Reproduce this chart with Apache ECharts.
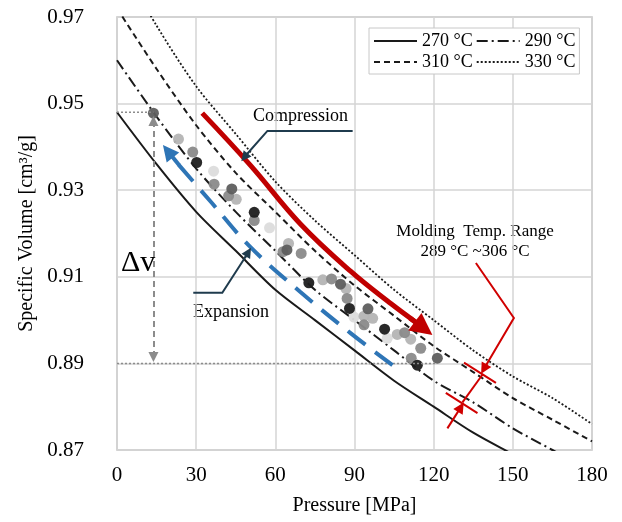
<!DOCTYPE html>
<html>
<head>
<meta charset="utf-8">
<title>Specific Volume vs Pressure</title>
<script src="https://cdn.jsdelivr.net/npm/echarts@6/dist/echarts.min.js"></script>
<style>
  html, body { margin: 0; padding: 0; background: #fff; }
  #main { width: 622px; height: 522px; }
</style>
</head>
<body>
<div id="main"></div>
<script>
// pvT isotherms
var pressure = [0, 15, 30, 45, 60, 75, 90, 105, 120, 135, 150, 165, 180];
var v270 = [0.948, 0.936, 0.925, 0.916, 0.907, 0.900, 0.893, 0.886, 0.880, 0.874, 0.869, 0.864, 0.859];
var v290 = [0.960, 0.947, 0.935, 0.925, 0.916, 0.907, 0.900, 0.893, 0.886, 0.881, 0.875, 0.870, 0.865];
var v310 = [0.972, 0.958, 0.945, 0.934, 0.925, 0.916, 0.908, 0.901, 0.894, 0.888, 0.882, 0.877, 0.872];
var v330 = [0.984, 0.968, 0.954, 0.943, 0.932, 0.923, 0.915, 0.907, 0.900, 0.893, 0.887, 0.882, 0.876];
var curveNames = ['270 °C', '290 °C', '310 °C', '330 °C'];

// measured points, grouped by marker shade
var blackPts = [[30.2, 0.9364], [52, 0.9249], [72.7, 0.9086], [88.1, 0.9027], [101.4, 0.8979], [113.8, 0.8896]];
var darkPts = [[13.8, 0.9478], [43.5, 0.9303], [64.4, 0.9162], [84.7, 0.9083], [95.1, 0.9026], [121.4, 0.8912]];
var midPts = [[28.7, 0.9388], [36.8, 0.9314], [42.3, 0.9287], [52, 0.9230], [62.9, 0.9158], [69.8, 0.9154],
              [81.3, 0.9095], [87.2, 0.9050], [93.6, 0.8989], [109, 0.8971], [115.1, 0.8935], [111.5, 0.8912]];
var lightPts = [[23.3, 0.9418], [45.2, 0.9279], [65, 0.9177], [78, 0.9093], [86.8, 0.9073], [96.9, 0.9004],
                [93.6, 0.9009], [106.2, 0.8967], [111.3, 0.8956]];
var palePts = [[36.6, 0.9344], [57.8, 0.9213], [89.8, 0.9007], [102.4, 0.8958]];

// annotation paths (data coordinates)
var compressionPath = [[32.3, 0.9478], [50.5, 0.9358], [69.5, 0.9222], [88.5, 0.9113], [104, 0.9037], [113.5, 0.8994]];
var compressionTip = [[111, 0.9005], [116.2, 0.8981]];
var expansionPath = [[104.4, 0.8896], [88.5, 0.8970], [69.5, 0.9065], [50.5, 0.9169], [35.3, 0.9275], [22.5, 0.9365]];
var expansionTip = [[23.5, 0.9358], [19.3, 0.9390]];

var serif = '"Liberation Serif", "Times New Roman", serif';

function curve(name, vals, type, width) {
    return {
        name: name,
        type: 'line',
        symbol: 'none',
        symbolSize: 0,
        smooth: 0.3,
        clip: true,
        data: pressure.map(function (p, i) { return [p, vals[i]]; }),
        itemStyle: { color: '#1a1a1a' },
        lineStyle: { color: '#1a1a1a', width: width, type: type },
        z: 2
    };
}

function dots(data, color) {
    return {
        type: 'scatter',
        symbolSize: 11,
        data: data,
        itemStyle: { color: color, opacity: 0.95 },
        z: 3
    };
}

// plain polyline in data coordinates
function path(coords, color, width, type) {
    return {
        type: 'lines',
        coordinateSystem: 'cartesian2d',
        polyline: true,
        silent: true,
        lineStyle: { color: color, width: width, type: type || 'solid', opacity: 1 },
        data: [{ coords: coords }],
        z: 4
    };
}

// straight segment with optional arrow heads
function seg(from, to, color, width, type, symbols, size) {
    return {
        type: 'lines',
        coordinateSystem: 'cartesian2d',
        silent: true,
        symbol: symbols,
        symbolSize: size,
        lineStyle: { color: color, width: width, type: type || 'solid', opacity: 1, curveness: 0 },
        data: [{ coords: [from, to] }],
        z: 5
    };
}

function smoothPath(coords, color, width, type) {
    return {
        type: 'line',
        symbol: 'none',
        smooth: 0.4,
        silent: true,
        data: coords,
        lineStyle: { color: color, width: width, type: type },
        z: 4
    };
}

var option = {
    backgroundColor: '#fff',
    animation: false,
    textStyle: { fontFamily: serif },
    grid: {
        left: 117, right: 30, top: 17, bottom: 72,
        show: true, borderColor: '#bfbfbf', borderWidth: 1.5
    },
    legend: {
        data: curveNames,
        left: 369, top: 28, width: 216,
        itemWidth: 43, itemHeight: 12, itemGap: 3,
        padding: [4, 4, 3, 4],
        backgroundColor: '#fff',
        borderColor: '#c8c8c8', borderWidth: 1,
        itemStyle: { opacity: 0 },
        textStyle: { fontFamily: serif, fontSize: 18, color: '#000', width: 57 }
    },
    xAxis: {
        type: 'value', min: 0, max: 180, interval: 30,
        name: 'Pressure [MPa]', nameLocation: 'middle', nameGap: 46,
        nameTextStyle: { fontFamily: serif, fontSize: 20, color: '#000' },
        axisLine: { show: false }, axisTick: { show: false },
        axisLabel: { fontFamily: serif, fontSize: 21, color: '#000', margin: 15 },
        splitLine: { lineStyle: { color: '#d4d4d4', width: 1.5 } }
    },
    yAxis: {
        type: 'value', min: 0.87, max: 0.97, interval: 0.02,
        name: 'Specific Volume [cm³/g]', nameLocation: 'middle', nameGap: 72,
        nameTextStyle: { fontFamily: serif, fontSize: 20, color: '#000' },
        axisLine: { show: false }, axisTick: { show: false },
        axisLabel: {
            fontFamily: serif, fontSize: 21, color: '#000', margin: 33,
            formatter: function (v) { return v.toFixed(2); }
        },
        splitLine: { lineStyle: { color: '#d4d4d4', width: 1.5 } }
    },
    series: [
        curve(curveNames[0], v270, 'solid', 2),
        curve(curveNames[1], v290, [11, 4, 2, 4], 2),
        curve(curveNames[2], v310, [6, 4], 2),
        curve(curveNames[3], v330, [2, 2], 1.8),
        // dotted guides for delta v
        path([[0, 0.948], [13.8, 0.948]], '#8c8c8c', 1.5, [2, 2]),
        path([[0, 0.89], [121, 0.89]], '#8c8c8c', 1.5, [2, 2]),
        dots(palePts, '#dcdcdc'),
        dots(lightPts, '#b4b4b4'),
        dots(midPts, '#8a8a8a'),
        dots(darkPts, '#5e5e5e'),
        dots(blackPts, '#1e1e1e'),
        seg([13.8, 0.8915], [13.8, 0.9460], '#8c8c8c', 2, [6, 4], ['triangle', 'triangle'], 10),
        // compression / expansion arrows
        smoothPath(compressionPath, '#c00000', 5, 'solid'),
        seg(compressionTip[0], compressionTip[1], '#c00000', 5, 'solid', ['none', 'triangle'], 22),
        smoothPath(expansionPath, '#2e75b6', 4, [22, 12]),
        seg(expansionTip[0], expansionTip[1], '#2e75b6', 4, 'solid', ['none', 'triangle'], 16),
        // callouts
        path([[89.3, 0.9437], [57.0, 0.9437], [49.2, 0.9383]], '#1f3b4d', 2),
        seg([49.6, 0.9386], [48.3, 0.9376], '#1f3b4d', 2, 'solid', ['none', 'triangle'], 10),
        path([[28.9, 0.9063], [39.9, 0.9063], [48.9, 0.9148]], '#1f3b4d', 2),
        seg([48.5, 0.9144], [49.8, 0.9157], '#1f3b4d', 2, 'solid', ['none', 'triangle'], 10),
        // molding temperature range
        path([[136, 0.9132], [150.4, 0.9005], [139.8, 0.8895]], '#d00000', 2),
        seg([140.2, 0.8900], [139.0, 0.8887], '#d00000', 2, 'solid', ['none', 'triangle'], 11),
        path([[138.6, 0.8875], [130.9, 0.8810]], '#d00000', 2),
        path([[125.2, 0.8750], [129.9, 0.8795]], '#d00000', 2),
        seg([129.5, 0.8791], [130.3, 0.8799], '#d00000', 2, 'solid', ['none', 'triangle'], 11),
        path([[131.5, 0.8902], [143.6, 0.8855]], '#d00000', 2),
        path([[124.6, 0.8832], [136.6, 0.8785]], '#d00000', 2)
    ],
    graphic: [
        { type: 'text', x: 253, y: 116, style: { text: 'Compression', font: '18px ' + serif, fill: '#000', verticalAlign: 'middle' } },
        { type: 'text', x: 193, y: 312, style: { text: 'Expansion', font: '18px ' + serif, fill: '#000', verticalAlign: 'middle' } },
        { type: 'text', x: 121, y: 263, style: { text: 'Δv', font: '30px ' + serif, fill: '#000', verticalAlign: 'middle' } },
        { type: 'text', x: 475, y: 232, style: { text: 'Molding  Temp. Range', font: '17px ' + serif, fill: '#000', align: 'center', verticalAlign: 'middle' } },
        { type: 'text', x: 475, y: 252, style: { text: '289 °C ~306 °C', font: '17px ' + serif, fill: '#000', align: 'center', verticalAlign: 'middle' } }
    ]
};

var myChart = echarts.init(document.getElementById('main'));
myChart.setOption(option);
</script>
</body>
</html>
